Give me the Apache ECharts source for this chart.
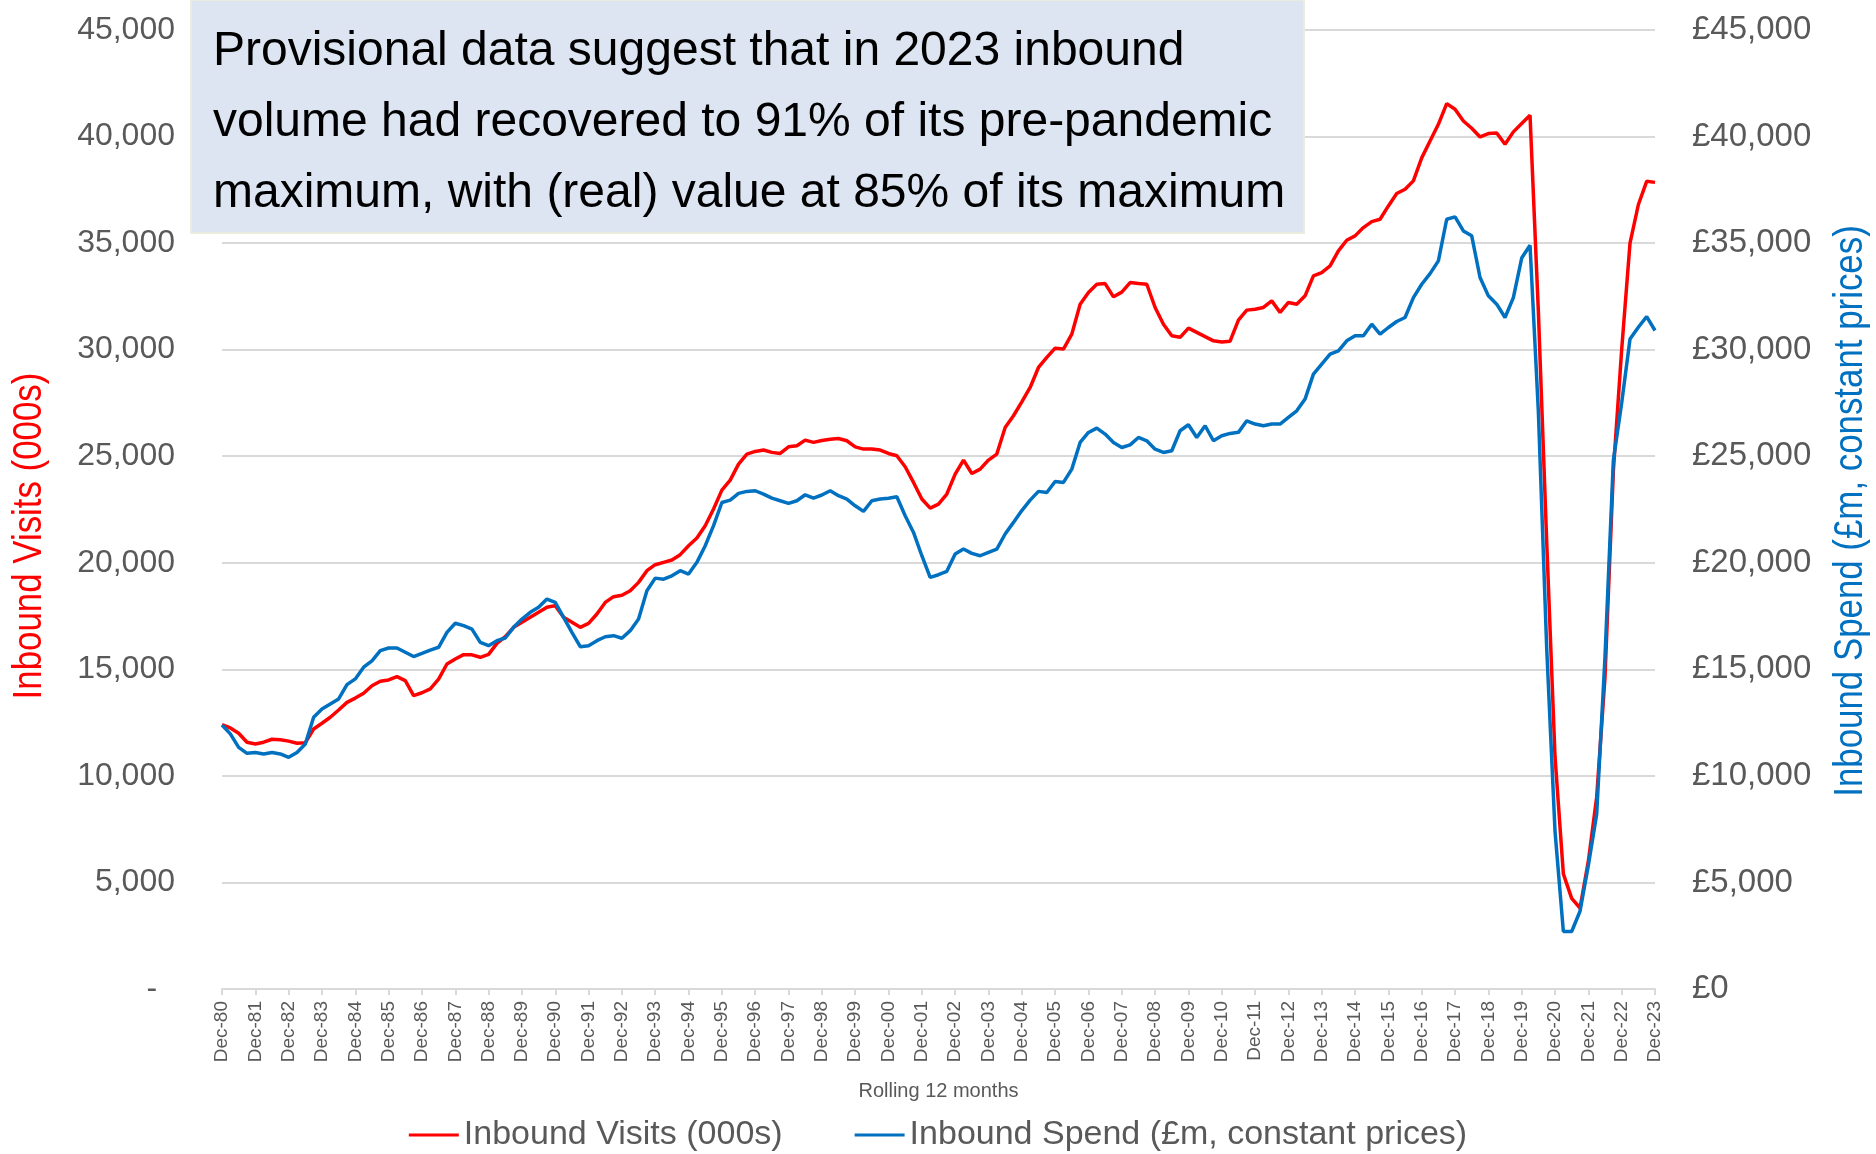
<!DOCTYPE html>
<html>
<head>
<meta charset="utf-8">
<title>Inbound visits and spend</title>
<script src="https://cdn.jsdelivr.net/npm/echarts@6/dist/echarts.min.js"></script>
<style>
  html, body { margin: 0; padding: 0; background: #fff; }
  #main { width: 1876px; height: 1154px; }
</style>
</head>
<body>
<div id="main"></div>
<script>
// quarterly points, Dec-80 .. Dec-23 (rolling 12 months)
var quarterNames = ['Dec', 'Mar', 'Jun', 'Sep'];
var periods = [];
for (var i = 0; i < 173; i++) {
  var yy = (80 + Math.ceil(i / 4)) % 100;
  periods.push(quarterNames[i % 4] + '-' + (yy < 10 ? '0' : '') + yy);
}

// Inbound Visits (000s)
var visits = [
  12400,
  12250, 12000, 11580, 11500,   // 81
  11580, 11720, 11700, 11630,   // 82
  11530, 11560, 12200, 12470,   // 83
  12750, 13090, 13450, 13650,   // 84
  13880, 14230, 14440, 14500,   // 85
  14660, 14470, 13770, 13900,   // 86
  14080, 14545, 15250, 15485,   // 87
  15690, 15680, 15565, 15700,   // 88
  16220, 16530, 16970, 17205,   // 89
  17440, 17675, 17910, 17990,   // 90
  17440, 17205, 16970, 17160,   // 91
  17595, 18140, 18410, 18480,   // 92
  18690, 19080, 19630, 19910,   // 93
  20020, 20130, 20380, 20800,   // 94
  21160, 21740, 22520, 23410,   // 95
  23880, 24630, 25100, 25225,   // 96
  25290, 25180, 25130, 25440,   // 97
  25490, 25755, 25650, 25740,   // 98
  25800, 25830, 25725, 25440,   // 99
  25335, 25335, 25290, 25130,   // 00
  25020, 24505, 23770, 22990,   // 01
  22565, 22755, 23225, 24160,   // 02
  24820, 24190, 24395, 24820,   // 03
  25100, 26350, 26900, 27550,   // 04
  28225, 29165, 29635, 30070,   // 05
  30030, 30730, 32135, 32680,   // 06
  33070, 33100, 32480, 32700,   // 07
  33150, 33100, 33070, 31980,   // 08
  31195, 30650, 30580, 31010,   // 09
  30810, 30610, 30415, 30360,   // 10
  30400, 31385, 31855, 31900,   // 11
  31980, 32290, 31745, 32215,   // 12
  32135, 32525, 33460, 33620,   // 13
  33930, 34635, 35135, 35340,   // 14
  35730, 36010, 36120, 36745,   // 15
  37325, 37530, 37920, 39000,   // 16
  39795, 40575, 41545, 41280,   // 17
  40730, 40390, 39980, 40140,   // 18
  40170, 39640, 40220, 40610,   // 19
  41000, 31800, 21000, 10900,   // 20
  5400, 4250, 3800, 6000,       // 21
  9000, 14650, 24300, 30000,    // 22
  35000, 36800, 37900, 37850    // 23
];

// Inbound Spend (£m, constant prices)
var spend = [
  12390,
  11970, 11340, 11060, 11100,   // 81
  11030, 11100, 11030, 10870,   // 82
  11100, 11500, 12750, 13140,   // 83
  13375, 13610, 14280, 14550,   // 84
  15100, 15400, 15880, 16000,   // 85
  16000, 15800, 15600, 15750,   // 86
  15905, 16035, 16735, 17160,   // 87
  17050, 16890, 16265, 16110,   // 88
  16345, 16470, 16970, 17360,   // 89
  17675, 17910, 18300, 18140,   // 90
  17440, 16735, 16063, 16110,   // 91
  16345, 16530, 16580, 16460,   // 92
  16815, 17360, 18690, 19280,   // 93
  19230, 19390, 19630, 19470,   // 94
  20020, 20800, 21740, 22830,   // 95
  22940, 23255, 23350, 23380,   // 96
  23220, 23035, 22910, 22790,   // 97
  22910, 23190, 23035, 23180,   // 98
  23380, 23150, 22990, 22675,   // 99
  22410, 22910, 22990, 23030,   // 00
  23100, 22210, 21425, 20330,   // 01
  19315, 19440, 19600, 20410,   // 02
  20645, 20440, 20330, 20490,   // 03
  20645, 21350, 21895, 22450,   // 04
  22940, 23350, 23300, 23815,   // 05
  23770, 24395, 25645, 26115,   // 06
  26320, 26040, 25645, 25410,   // 07
  25535, 25880, 25725, 25330,   // 08
  25175, 25255, 26195, 26475,   // 09
  25880, 26430, 25725, 25960,   // 10
  26070, 26120, 26660, 26510,   // 11
  26430, 26510, 26510, 26820,   // 12
  27130, 27680, 28850, 29320,   // 13
  29790, 29945, 30415, 30650,   // 14
  30650, 31195, 30730, 31040,   // 15
  31320, 31510, 32445, 33070,   // 16
  33570, 34165, 36120, 36230,   // 17
  35570, 35340, 33385, 32525,   // 18
  32135, 31510, 32445, 34300,   // 19
  34900, 27100, 16000, 7400,    // 20
  2700, 2700, 3650, 5800,       // 21
  8200, 15600, 24800, 27500,    // 22
  30500, 31050, 31550, 30900    // 23
];

var seriesNames = ['Inbound Visits (000s)', 'Inbound Spend (£m, constant prices)'];
var titleLines = [
  'Provisional data suggest that in 2023 inbound',
  'volume had recovered to 91% of its pre-pandemic',
  'maximum, with (real) value at 85% of its maximum'
];

var FONT = 'Liberation Sans, Arial, sans-serif';
var GREY = '#595959';

function thousands(v) {
  return String(v).replace(/\B(?=(\d{3})+(?!\d))/g, ',');
}

var chart = echarts.init(document.getElementById('main'));

var option = {
  backgroundColor: '#fff',
  animation: false,
  grid: { left: 222, right: 221, top: 30, bottom: 165, containLabel: false, outerBoundsMode: 'none' },
  legend: {
    data: seriesNames,
    left: 'center',
    top: 1113,
    icon: 'rect',
    itemWidth: 50,
    itemHeight: 3,
    itemGap: 72,
    textStyle: { fontSize: 34, color: GREY, fontFamily: FONT }
  },
  xAxis: {
    type: 'category',
    data: periods,
    boundaryGap: false,
    name: 'Rolling 12 months',
    nameLocation: 'middle',
    nameGap: 92,
    nameTextStyle: { fontSize: 20, color: GREY, fontFamily: FONT },
    axisLine: { lineStyle: { color: '#d9d9d9', width: 2 } },
    axisTick: { interval: 3, length: 6, lineStyle: { color: '#d9d9d9', width: 2 } },
    axisLabel: { interval: 3, rotate: 90, margin: 12, fontSize: 19, color: GREY, fontFamily: FONT },
    splitLine: { show: false }
  },
  yAxis: [{
    type: 'value',
    min: 0, max: 45000, interval: 5000,
    axisLine: { show: false },
    axisTick: { show: false },
    axisLabel: {
      margin: 47, fontSize: 32, color: GREY, fontFamily: FONT,
      formatter: function (v) { return v === 0 ? '-  ' : thousands(v); }
    },
    splitLine: { lineStyle: { color: '#d9d9d9', width: 2 } }
  }, {
    type: 'value',
    min: 0, max: 45000, interval: 5000,
    position: 'right',
    axisLine: { show: false },
    axisTick: { show: false },
    axisLabel: {
      margin: 37, fontSize: 33, color: GREY, fontFamily: FONT,
      formatter: function (v) { return '£' + thousands(v); }
    },
    splitLine: { show: false }
  }],
  series: [{
    name: seriesNames[0],
    type: 'line',
    data: visits,
    yAxisIndex: 0,
    showSymbol: false,
    lineStyle: { color: '#ff0000', width: 3.5 },
    itemStyle: { color: '#ff0000' }
  }, {
    name: seriesNames[1],
    type: 'line',
    data: spend,
    yAxisIndex: 1,
    showSymbol: false,
    lineStyle: { color: '#0070c0', width: 3.5 },
    itemStyle: { color: '#0070c0' }
  }],
  graphic: [{
    type: 'rect',
    z: 100,
    shape: { x: 191, y: 0, width: 1113, height: 233 },
    style: { fill: '#dce5f1', stroke: '#e9ecdf', lineWidth: 2 }
  }, {
    type: 'text',
    z: 101,
    x: 213, y: 16,
    style: {
      text: titleLines.join('\n'),
      font: '48px ' + FONT,
      lineHeight: 71,
      fill: '#000',
      align: 'left',
      verticalAlign: 'top'
    }
  }, {
    type: 'text',
    x: 30, y: 536,
    rotation: Math.PI / 2,
    scaleX: 0.85,
    style: {
      text: 'Inbound Visits (000s)',
      font: '41px ' + FONT,
      fill: '#ff0000',
      align: 'center',
      verticalAlign: 'middle'
    }
  }, {
    type: 'text',
    x: 1851, y: 511,
    rotation: Math.PI / 2,
    scaleX: 0.85,
    style: {
      text: 'Inbound Spend (£m, constant prices)',
      font: '41px ' + FONT,
      fill: '#0070c0',
      align: 'center',
      verticalAlign: 'middle'
    }
  }]
};

chart.setOption(option);
</script>
</body>
</html>
